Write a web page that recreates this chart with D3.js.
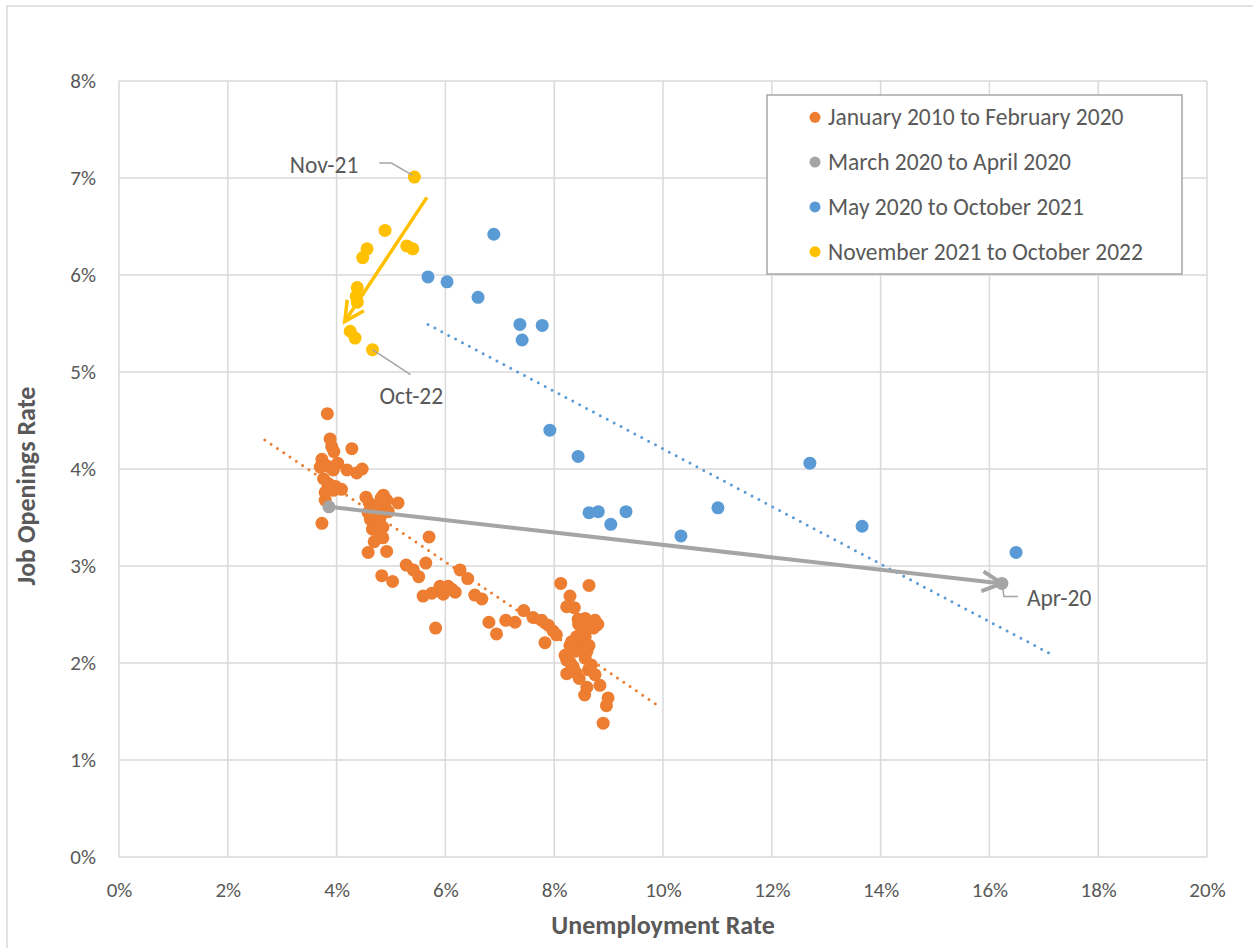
<!DOCTYPE html>
<html>
<head>
<meta charset="utf-8">
<script src="https://cdn.jsdelivr.net/npm/d3@7"></script>
<style>
  html, body { margin: 0; padding: 0; background: #fff; }
  svg { display: block; font-family: Carlito, Lato, "Open Sans", sans-serif; }
</style>
</head>
<body>
<svg id="chart" width="1253" height="948"></svg>
<script>
// ---------- data ----------
const xTicks = [0, 2, 4, 6, 8, 10, 12, 14, 16, 18, 20];
const yTicks = [0, 1, 2, 3, 4, 5, 6, 7, 8];
const seriesNames = ["January 2010 to February 2020", "March 2020 to April 2020", "May 2020 to October 2021", "November 2021 to October 2022"];

// January 2010 to February 2020 : [unemployment, openings]
const preCovid = [
  [3.83,4.57],[3.88,4.31],[3.91,4.23],[3.95,4.18],[4.28,4.21],[3.73,4.10],[3.79,4.04],[3.88,4.02],[3.94,3.99],[4.19,3.99],
  [4.37,3.96],[4.47,4.00],[3.84,3.81],[3.79,3.76],[3.94,3.78],[4.09,3.79],[3.79,3.68],[3.73,3.44],[3.70,4.02],[3.85,3.85],
  [3.98,3.82],[4.02,4.06],[3.76,3.90],
  [4.54,3.71],[4.86,3.73],[4.92,3.68],[5.13,3.65],[4.60,3.65],[4.65,3.58],[4.70,3.52],[4.62,3.48],[4.68,3.43],[4.75,3.45],
  [4.80,3.50],[4.85,3.40],[4.58,3.55],[4.90,3.60],[4.72,3.62],[4.95,3.56],[4.82,3.70],[4.69,3.25],[4.85,3.29],[4.58,3.14],
  [4.92,3.15],[4.66,3.38],[4.78,3.35],
  [5.70,3.30],[5.64,3.03],[5.28,3.01],[5.41,2.96],[5.51,2.89],[4.83,2.90],[5.03,2.84],[6.27,2.96],[6.41,2.87],[5.59,2.69],
  [5.75,2.72],[5.90,2.79],[6.05,2.79],[6.18,2.73],[5.96,2.71],[6.54,2.70],[6.67,2.66],[5.82,2.36],[6.80,2.42],[6.94,2.30],
  [7.11,2.44],[7.28,2.42],[7.44,2.54],[7.61,2.47],[7.77,2.44],[7.89,2.39],[7.98,2.33],[8.04,2.29],[7.83,2.21],[5.92,2.77],
  [6.12,2.76],
  [8.12,2.82],[8.64,2.80],[8.29,2.69],[8.23,2.58],[8.37,2.57],[8.44,2.45],[8.57,2.46],[8.75,2.44],[8.78,2.39],[8.72,2.36],
  [8.51,2.34],[8.41,2.27],[8.57,2.27],[8.29,2.18],[8.47,2.17],[8.64,2.18],[8.20,2.08],[8.23,2.03],[8.57,2.05],[8.35,1.96],
  [8.23,1.89],[8.63,1.93],[8.75,1.88],[8.46,1.84],[8.60,1.75],[8.84,1.77],[8.56,1.67],[8.99,1.64],[8.96,1.56],[8.90,1.38],
  [8.70,2.42],[8.80,2.40],[8.50,2.30],[8.38,2.12],[8.32,2.22],[8.60,2.12],[8.68,1.98],[8.45,2.40],[8.55,2.36],[8.30,2.00],
  [8.40,1.90]
];

// March 2020 to April 2020
const covidShock = [[3.86,3.61],[16.23,2.82]];

// May 2020 to October 2021
const recovery = [
  [16.49,3.14],[13.66,3.41],[12.70,4.06],[11.01,3.60],[10.33,3.31],[9.32,3.56],[9.04,3.43],[8.81,3.56],[8.64,3.55],
  [8.44,4.13],[7.92,4.40],[7.78,5.48],[7.41,5.33],[7.37,5.49],[6.60,5.77],[6.89,6.42],[6.03,5.93],[5.68,5.98]
];

// November 2021 to October 2022
const recent = [
  [5.43,7.01],[5.29,6.30],[5.40,6.27],[4.89,6.46],[4.56,6.27],[4.48,6.18],[4.38,5.87],[4.36,5.78],[4.38,5.72],[4.25,5.42],
  [4.34,5.35],[4.66,5.23]
];

// trendlines (start / end)
const preCovidTrend = [[2.68,4.30],[9.94,1.55]];
const recoveryTrend = [[5.68,5.49],[17.17,2.08]];
// direction arrow for latest period
const recentArrow = [[5.66,6.80],[4.15,5.52]];

// point labels
const pointLabels = [
  {text: "Nov-21", pt: [5.43,7.01], kind: "left"},
  {text: "Oct-22", pt: [4.66,5.23], kind: "below"},
  {text: "Apr-20", pt: [16.23,2.82], kind: "right"}
];

// ---------- drawing ----------
const colors = ["#ED7D31", "#A5A5A5", "#5B9BD5", "#FFC000"];
const textColor = "#595959";
const gridColor = "#D9D9D9";

const svg = d3.select("#chart");
const x = d3.scaleLinear().domain([0, 20]).range([119, 1207]);
const y = d3.scaleLinear().domain([0, 8]).range([857, 81]);

// outer chart border
svg.append("rect").attr("x", 7).attr("y", 6).attr("width", 1280).attr("height", 980)
  .attr("fill", "#fff").attr("stroke", gridColor).attr("stroke-width", 1.5);

// gridlines
const grid = svg.append("g");
grid.selectAll("line.v").data(xTicks).join("line")
  .attr("x1", d => x(d)).attr("x2", d => x(d)).attr("y1", y(0)).attr("y2", y(8))
  .attr("stroke", gridColor).attr("stroke-width", 1.5);
grid.selectAll("line.h").data(yTicks).join("line")
  .attr("x1", x(0)).attr("x2", x(20)).attr("y1", d => y(d)).attr("y2", d => y(d))
  .attr("stroke", gridColor).attr("stroke-width", 1.5);

// axes (labels only)
const tickFont = 21;
const labelFont = 23.5;
const gx = svg.append("g").attr("transform", `translate(0,${y(0)})`)
  .call(d3.axisBottom(x).tickValues(xTicks).tickFormat(d => d + "%").tickSize(0).tickPadding(25));
const gy = svg.append("g").attr("transform", `translate(${x(0)},0)`)
  .call(d3.axisLeft(y).tickValues(yTicks).tickFormat(d => d + "%").tickSize(0).tickPadding(23));
[gx, gy].forEach(g => {
  g.select(".domain").remove();
  g.selectAll("text").attr("font-size", tickFont).attr("fill", textColor)
    .attr("font-family", "Carlito, Lato, sans-serif");
});

// axis titles
svg.append("text").attr("x", (x(0) + x(20)) / 2).attr("y", 934).attr("text-anchor", "middle")
  .attr("font-size", 26).attr("font-weight", "bold").attr("fill", textColor)
  .text("Unemployment Rate");
svg.append("text").attr("transform", "translate(35,486) rotate(-90)").attr("text-anchor", "middle")
  .attr("font-size", 26).attr("font-weight", "bold").attr("fill", textColor)
  .text("Job Openings Rate");

// trendlines
const line = d3.line().x(d => x(d[0])).y(d => y(d[1]));
svg.append("path").datum(preCovidTrend).attr("d", line).attr("fill", "none")
  .attr("stroke", colors[0]).attr("stroke-width", 3).attr("stroke-linecap", "round")
  .attr("stroke-dasharray", "0 7.6");
svg.append("path").datum(recoveryTrend).attr("d", line).attr("fill", "none")
  .attr("stroke", colors[2]).attr("stroke-width", 3).attr("stroke-linecap", "round")
  .attr("stroke-dasharray", "0 7.8");

// points
function dots(data, color) {
  svg.append("g").selectAll("circle").data(data).join("circle")
    .attr("cx", d => x(d[0])).attr("cy", d => y(d[1])).attr("r", 6.5).attr("fill", color);
}
dots(preCovid, colors[0]);
dots(recovery, colors[2]);
dots(recent, colors[3]);

// arrow helper (open chevron head)
function arrow(pts, color, width) {
  const p0 = [x(pts[0][0]), y(pts[0][1])];
  const p1 = [x(pts[1][0]), y(pts[1][1])];
  svg.append("path").datum(pts).attr("d", line).attr("fill", "none")
    .attr("stroke", color).attr("stroke-width", width);
  const ang = Math.atan2(p0[1] - p1[1], p0[0] - p1[0]);
  const L = 22, spread = 27 * Math.PI / 180;
  const a1 = [p1[0] + L * Math.cos(ang - spread), p1[1] + L * Math.sin(ang - spread)];
  const a2 = [p1[0] + L * Math.cos(ang + spread), p1[1] + L * Math.sin(ang + spread)];
  svg.append("path").attr("d", `M${a1[0]},${a1[1]}L${p1[0]},${p1[1]}L${a2[0]},${a2[1]}`)
    .attr("fill", "none").attr("stroke", color).attr("stroke-width", width)
    .attr("stroke-linejoin", "miter");
}
arrow(covidShock, colors[1], 4);
dots(covidShock, colors[1]);
arrow(recentArrow, colors[3], 3.5);

// labels with leader lines
pointLabels.forEach(l => {
  const px = x(l.pt[0]), py = y(l.pt[1]);
  let pathD, tx, ty, anchor;
  if (l.kind === "left") {
    pathD = `M${px - 2},${py - 2}L${px - 23},${py - 14}L${px - 35},${py - 14}`;
    tx = px - 56; ty = py - 4; anchor = "end";
  } else if (l.kind === "below") {
    pathD = `M${px},${py}L${px + 38},${py + 25}`;
    tx = px + 7; ty = py + 54; anchor = "start";
  } else {
    pathD = `M${px},${py}L${px + 2},${py + 13}L${px + 16},${py + 13}`;
    tx = px + 25; ty = py + 23; anchor = "start";
  }
  svg.append("path").attr("d", pathD).attr("fill", "none").attr("stroke", "#A5A5A5").attr("stroke-width", 1.5);
  svg.append("text").attr("x", tx).attr("y", ty).attr("text-anchor", anchor)
    .attr("font-size", labelFont).attr("fill", textColor).text(l.text);
});

// legend
const lg = svg.append("g");
lg.append("rect").attr("x", 767).attr("y", 95).attr("width", 415).attr("height", 179)
  .attr("fill", "#fff").attr("stroke", "#A6A6A6").attr("stroke-width", 1.5);
const rows = lg.selectAll("g").data(seriesNames).join("g")
  .attr("transform", (d, i) => `translate(815,${117.3 + i * 44.8})`);
rows.append("circle").attr("r", 5.5).attr("fill", (d, i) => colors[i]);
rows.append("text").attr("x", 13).attr("y", 8).attr("font-size", labelFont).attr("fill", textColor)
  .text(d => d);
</script>
</body>
</html>
